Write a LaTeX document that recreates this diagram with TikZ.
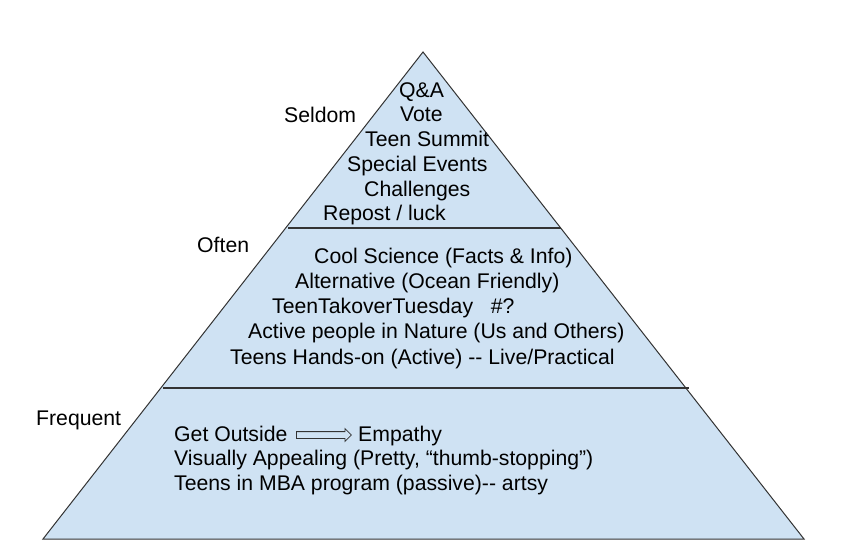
\documentclass[tikz,border=0pt]{standalone}
\usepackage{fontspec}
\setmainfont{Liberation Sans}
\usetikzlibrary{shapes.arrows,positioning}
\definecolor{pyrblue}{HTML}{CFE2F3}
\definecolor{pyrline}{HTML}{333333}
\tikzset
{
    txt/.style   = {anchor=base west, inner sep=0pt, font=\fontsize{21.3}{25}\selectfont},
    level/.style = {anchor=base west, inner sep=0pt, font=\fontsize{21.3}{25}\selectfont},
    divider/.style = {draw=pyrline, line width=1.3bp},
    hollow/.style = {single arrow, draw=pyrline, fill=pyrblue, line width=0.8bp, minimum height=55bp, single arrow head extend=3bp, single arrow tip angle=90, inner sep=0pt}
}
\begin{document}
\begin{tikzpicture}[x=1bp, y=-1bp]
   \useasboundingbox (0,0) rectangle (855,559);

   % the pyramid
   \coordinate (apex) at (423,52);
   \coordinate (bl)   at (43,539);
   \coordinate (br)   at (804,539);
   \fill[pyrblue] (apex) -- (bl) -- (br) -- cycle;
   \coordinate (d1l) at (288,228);
   \coordinate (d1r) at (561,228);
   \coordinate (d2l) at (163,388);
   \coordinate (d2r) at (689,388);
   \draw[divider] (d1l) -- (d1r);
   \draw[divider] (d2l) -- (d2r);
   \draw[pyrline, line width=1bp, line join=miter] (apex) -- (bl) -- (br) -- cycle;

   % levels
   \node (seldom)   [level] at (284,122.5) {Seldom};
   \node (often)    [level] at (197,253)   {Often};
   \node (frequent) [level] at (36,425)    {Frequent};

   % top
   \node (qa)     [txt] at (399,98)  {Q\&A};
   \node (vote)   [txt] at (400,122) {Vote};
   \node (summit) [txt] at (365,147) {Teen Summit};
   \node (events) [txt] at (347,171.5) {Special Events};
   \node (chall)  [txt] at (364,196.5) {Challenges};
   \node (repost) [txt] at (323,221) {Repost / luck};

   % middle
   \node (science) [txt] at (314,264) {Cool Science (Facts \& Info)};
   \node (altern)  [txt] at (295,289) {Alternative (Ocean Friendly)};
   \node (takeover)[txt] at (272,314) {TeenTakoverTuesday\ \ \ \#?};
   \node (active)  [txt] at (248,339) {Active people in Nature (Us and Others)};
   \node (handson) [txt] at (230,364) {Teens Hands-on (Active) -{}- Live/Practical};

   % bottom
   \node (outside) [txt] at (174,441.5) {Get Outside};
   \node (arr)     [hollow, anchor=west] at (296,435) {\rule{0pt}{6bp}};
   \node (empathy) [txt] at (358,441.5) {Empathy};
   \node (appeal)  [txt] at (174,465.5) {Visually Appealing (Pretty, “thumb-stopping”)};
   \node (mba)     [txt] at (174,490)   {Teens in MBA program (passive)-{}- artsy};
\end{tikzpicture}
\end{document}
